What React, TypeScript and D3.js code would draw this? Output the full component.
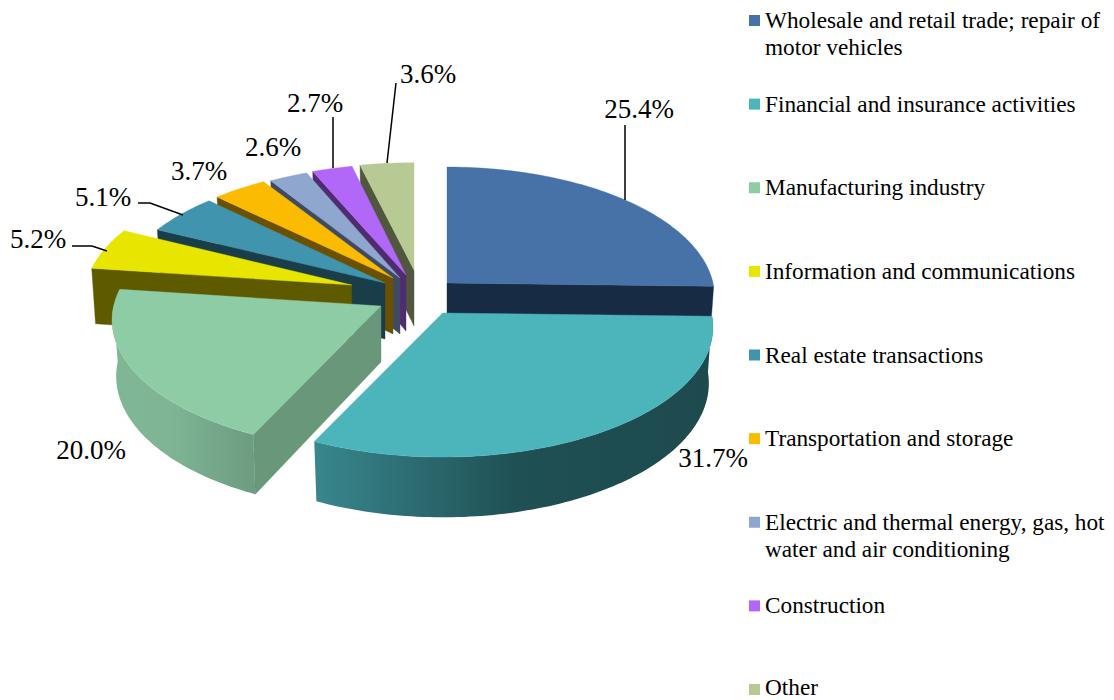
import * as d3 from "d3";

const WIDTH = 1114;
const HEIGHT = 700;

const categories = [
  ["Wholesale and retail trade; repair of", "motor vehicles"],
  ["Financial and insurance activities"],
  ["Manufacturing industry"],
  ["Information and communications"],
  ["Real estate transactions"],
  ["Transportation and storage"],
  ["Electric and thermal energy, gas, hot", "water and air conditioning"],
  ["Construction"],
  ["Other"],
];
const values = [25.4, 31.7, 20.0, 5.2, 5.1, 3.7, 2.6, 2.7, 3.6];

const topColors = ["#4672a8", "#4bb5bb", "#8ecca5", "#e8e500", "#4094ad", "#fbbb00", "#8fa6cf", "#b168f9", "#b8ca93"];
const wallColors = ["#182b45", "#1d4c50", "#68977a", "#5e5a00", "#1a3d4a", "#6b5000", "#3f4a63", "#4f2c70", "#51573f"];

// how far each slice is pulled out of the pie centre
const explodeX = [28.3, 24, -37.7, -67, -33.7, -25.7, -18.7, -12.7, -4.7];
const explodeY = [-10, 20, 13, -8, -10, -15, -15, -18, -23];

// small per slice radius corrections, the original's perspective isn't quite a single ellipse
const rxScale = [1, 1.01, 1.005, 1, 1, 1, 1, 1, 1];
const ryScale = [1, 1, 1, 1, 0.98, 0.965, 0.975, 0.96, 0.925];

// label anchor (centre x, baseline y)
const labelX = [639, 713, 91, 38, 103, 199, 273, 315, 428];
const labelY = [118, 467, 459, 248, 206, 180, 156, 112, 83];

const leaders: [number, number][][] = [
  [[625, 125], [625, 200]],
  [],
  [],
  [[72, 246], [92, 246], [107, 251]],
  [[138, 203], [150, 203], [183, 215]],
  [],
  [],
  [[333, 117], [333, 168]],
  [[396, 83], [387, 163]],
];

// pie geometry
const CX = 418.7;
const CY = 293;
const RX = 266;
const RY = 128.5;
const PERSP = 0.108;
const DEPTH = 56;
const BOTTOM_R = 0.985;

const draw = [8, 7, 6, 5, 4, 3, 2, 0, 1]; // back to front

const pie = d3.pie<number>().sort(null).startAngle(0).endAngle(2 * Math.PI);
const arcs = pie(values);

const pathLine = d3.line();

function project(i: number, a: number, bottom: boolean): [number, number] {
  const u = Math.sin(a);
  const v = -Math.cos(a);
  const r = bottom ? BOTTOM_R : 1;
  const s = 1 / (1 - PERSP * v * r);
  const z = bottom ? DEPTH * s : 0;
  return [
    CX + explodeX[i] + RX * rxScale[i] * u * r * s,
    CY + explodeY[i] + RY * ryScale[i] * v * r * s + z,
  ];
}

function apex(i: number, bottom: boolean): [number, number] {
  return [CX + explodeX[i], CY + explodeY[i] + (bottom ? DEPTH : 0)];
}

function sample(a0: number, a1: number) {
  const n = Math.max(2, Math.ceil(Math.abs(a1 - a0) / 0.02));
  return d3.range(n + 1).map((k) => a0 + ((a1 - a0) * k) / n);
}

const Slice = ({ i }: { i: number }) => {
  const { startAngle: a0, endAngle: a1 } = arcs[i];
  const top = sample(a0, a1).map((a) => project(i, a, false));
  const topPath = pathLine([apex(i, false), ...top]) + "Z";

  const rimFrom = Math.max(a0, Math.PI / 2);
  const rimTo = Math.min(a1, (3 * Math.PI) / 2);
  let rimPath: string | null = null;
  if (rimTo > rimFrom) {
    const upper = sample(rimFrom, rimTo).map((a) => project(i, a, false));
    const lower = sample(rimTo, rimFrom).map((a) => project(i, a, true));
    rimPath = pathLine([...upper, ...lower]) + "Z";
  }

  // a cut wall shows only when it faces the viewer
  const walls: string[] = [];
  if (-Math.sin(a0) > 0) {
    walls.push(pathLine([apex(i, false), project(i, a0, false), project(i, a0, true), apex(i, true)]) + "Z");
  }
  if (Math.sin(a1) > 0) {
    walls.push(pathLine([apex(i, false), project(i, a1, false), project(i, a1, true), apex(i, true)]) + "Z");
  }

  return (
    <g>
      {walls.map((d, k) => (
        <path key={k} d={d} fill={wallColors[i]} stroke={wallColors[i]} strokeWidth={0.4} />
      ))}
      {rimPath && <path d={rimPath} fill={`url(#rim${i})`} />}
      <path d={topPath} fill={topColors[i]} stroke={topColors[i]} strokeWidth={0.4} />
    </g>
  );
};

const legendY = d3.scaleLinear().domain([0, 8]).range([21, 690]);

export default function App() {
  return (
    <svg
      width={WIDTH}
      height={HEIGHT}
      style={{ position: "absolute", left: 0, top: 0, display: "block" }}
      fontFamily="'Liberation Serif', 'Times New Roman', serif"
    >
      <defs>
        <linearGradient id="rim1" gradientUnits="userSpaceOnUse" x1={318} x2={713} y1={0} y2={0}>
          <stop offset="0%" stopColor="#38868d" />
          <stop offset="50%" stopColor="#1f5054" />
          <stop offset="100%" stopColor="#1d4a4e" />
        </linearGradient>
        <linearGradient id="rim2" gradientUnits="userSpaceOnUse" x1={112} x2={254} y1={0} y2={0}>
          <stop offset="0%" stopColor="#7fb695" />
          <stop offset="40%" stopColor="#7fb595" />
          <stop offset="100%" stopColor="#6c9c81" />
        </linearGradient>
      </defs>

      {draw.map((i) => (
        <Slice key={i} i={i} />
      ))}

      {leaders.map((pts, i) =>
        pts.length ? (
          <path key={i} d={pathLine(pts) ?? ""} fill="none" stroke="#000" strokeWidth={1.5} />
        ) : null
      )}

      {values.map((v, i) => (
        <text key={i} x={labelX[i]} y={labelY[i]} textAnchor="middle" fontSize={27} fill="#000">
          {d3.format(".1f")(v)}%
        </text>
      ))}

      {categories.map((lines, i) => (
        <g key={i}>
          <rect x={749} y={legendY(i) - 6} width={11} height={11} fill={topColors[i]} />
          {lines.map((line, k) => (
            // last row sits right on the page edge, keep its descent inside
            <text key={k} x={765} y={Math.min(legendY(i) + 7 + k * 27, 695)} fontSize={23.25} fill="#000">
              {line}
            </text>
          ))}
        </g>
      ))}
    </svg>
  );
}
